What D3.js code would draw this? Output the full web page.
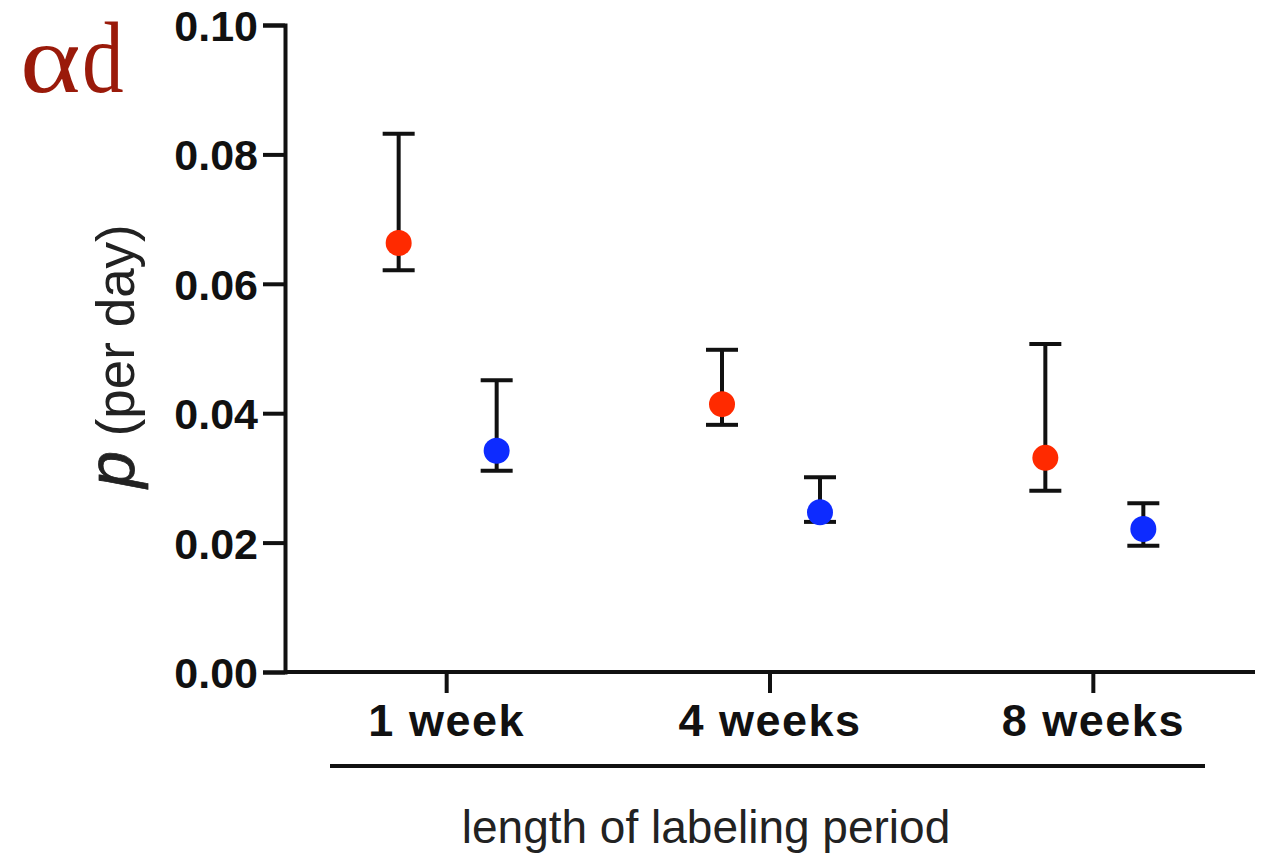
<!DOCTYPE html>
<html>
<head>
<meta charset="utf-8">
<script src="https://cdn.jsdelivr.net/npm/d3@7"></script>
<style>
  body { margin: 0; background: #fff; }
  svg { display: block; }
</style>
</head>
<body>
<div id="chart"></div>
<script>
// data
let categories = ["1 week", "4 weeks", "8 weeks"];
let groups = ["red", "blue"];
let redMean  = [0.0663, 0.0414, 0.0331];
let redUpper = [0.0832, 0.0498, 0.0507];
let redLower = [0.0621, 0.0382, 0.0280];
let blueMean  = [0.0342, 0.0247, 0.0221];
let blueUpper = [0.0451, 0.0301, 0.0261];
let blueLower = [0.0311, 0.0232, 0.0195];
let yTicks = [0, 0.02, 0.04, 0.06, 0.08, 0.10];

let colors = { red: "#ff2a00", blue: "#0d2bff" };

let W = 1277, H = 859;
let margin = { top: 25, right: 22, bottom: 187, left: 285 };

let svg = d3.select("#chart").append("svg")
    .attr("width", W)
    .attr("height", H);

let y = d3.scaleLinear()
    .domain([0, 0.10])
    .range([H - margin.bottom, margin.top]);

let x = d3.scaleBand()
    .domain(categories)
    .range([margin.left, W - margin.right]);

let xg = d3.scalePoint()
    .domain(groups)
    .range([-48, 50]);

// build the points table
let points = [];
categories.forEach(function(c, i) {
  points.push({ cat: c, grp: "red", mean: redMean[i], hi: redUpper[i], lo: redLower[i] });
  points.push({ cat: c, grp: "blue", mean: blueMean[i], hi: blueUpper[i], lo: blueLower[i] });
});

// y axis
let yAxis = d3.axisLeft(y)
    .tickValues(yTicks)
    .tickFormat(d3.format(".2f"))
    .tickSize(22)
    .tickPadding(5);

let yg = svg.append("g")
    .attr("transform", `translate(${margin.left},0)`)
    .call(yAxis);
yg.select(".domain").attr("stroke", "#111").attr("stroke-width", 4);
yg.selectAll(".tick line").attr("stroke", "#111").attr("stroke-width", 4);
yg.selectAll(".tick text")
    .attr("fill", "#111")
    .attr("font-family", "Liberation Sans, Arial, sans-serif")
    .attr("font-weight", "bold")
    .attr("font-size", 43)
    .attr("dy", "0.36em");

// x axis
let xAxis = d3.axisBottom(x)
    .tickSize(21)
    .tickPadding(8)
    .tickSizeOuter(0);

let xgAxis = svg.append("g")
    .attr("transform", `translate(0,${H - margin.bottom})`)
    .call(xAxis);
xgAxis.select(".domain").attr("stroke", "#111").attr("stroke-width", 4)
    .attr("d", `M${margin.left},0H${W - margin.right}`);
xgAxis.selectAll(".tick line").attr("stroke", "#111").attr("stroke-width", 4);
xgAxis.selectAll(".tick text")
    .attr("fill", "#111")
    .attr("font-family", "Liberation Sans, Arial, sans-serif")
    .attr("font-weight", "bold")
    .attr("font-size", 45)
    .attr("letter-spacing", 1.5)
    .attr("y", 32);

// bracket under the categories
svg.append("line")
    .attr("x1", 330).attr("x2", 1205)
    .attr("y1", 766).attr("y2", 766)
    .attr("stroke", "#111").attr("stroke-width", 4);

svg.append("text")
    .attr("x", 706).attr("y", 843)
    .attr("text-anchor", "middle")
    .attr("font-family", "Liberation Sans, Arial, sans-serif")
    .attr("font-size", 46)
    .attr("fill", "#222")
    .text("length of labeling period");

// y label
let ylab = svg.append("text")
    .attr("transform", "translate(134,356) rotate(-90)")
    .attr("text-anchor", "middle")
    .attr("font-family", "Liberation Sans, Arial, sans-serif")
    .attr("fill", "#222");
ylab.append("tspan")
    .attr("font-size", 66).attr("font-style", "italic")
    .attr("stroke", "#222").attr("stroke-width", 0.8)
    .text("p");
ylab.append("tspan")
    .attr("font-size", 53)
    .text(" (per day)");

// panel letter
svg.append("text")
    .attr("transform", "translate(20,92) scale(1.18,1)")
    .attr("font-family", "Liberation Serif, serif")
    .attr("font-size", 98)
    .attr("fill", "#9a1a0a")
    .text("α");
svg.append("text")
    .attr("transform", "translate(82,92) scale(0.85,1.04)")
    .attr("font-family", "Liberation Serif, serif")
    .attr("font-size", 98)
    .attr("fill", "#9a1a0a")
    .text("d");

// error bars
let cap = 16;
let bars = svg.append("g").selectAll("g")
    .data(points)
    .join("g")
    .attr("stroke", "#111")
    .attr("stroke-width", 4);

bars.append("line")
    .attr("x1", d => x(d.cat) + x.bandwidth() / 2 + xg(d.grp))
    .attr("x2", d => x(d.cat) + x.bandwidth() / 2 + xg(d.grp))
    .attr("y1", d => y(d.hi))
    .attr("y2", d => y(d.lo));
bars.append("line")
    .attr("x1", d => x(d.cat) + x.bandwidth() / 2 + xg(d.grp) - cap)
    .attr("x2", d => x(d.cat) + x.bandwidth() / 2 + xg(d.grp) + cap)
    .attr("y1", d => y(d.hi))
    .attr("y2", d => y(d.hi));
bars.append("line")
    .attr("x1", d => x(d.cat) + x.bandwidth() / 2 + xg(d.grp) - cap)
    .attr("x2", d => x(d.cat) + x.bandwidth() / 2 + xg(d.grp) + cap)
    .attr("y1", d => y(d.lo))
    .attr("y2", d => y(d.lo));

// dots
svg.append("g").selectAll("circle")
    .data(points)
    .join("circle")
    .attr("cx", d => x(d.cat) + x.bandwidth() / 2 + xg(d.grp))
    .attr("cy", d => y(d.mean))
    .attr("r", 13)
    .attr("fill", d => colors[d.grp]);
</script>
</body>
</html>
